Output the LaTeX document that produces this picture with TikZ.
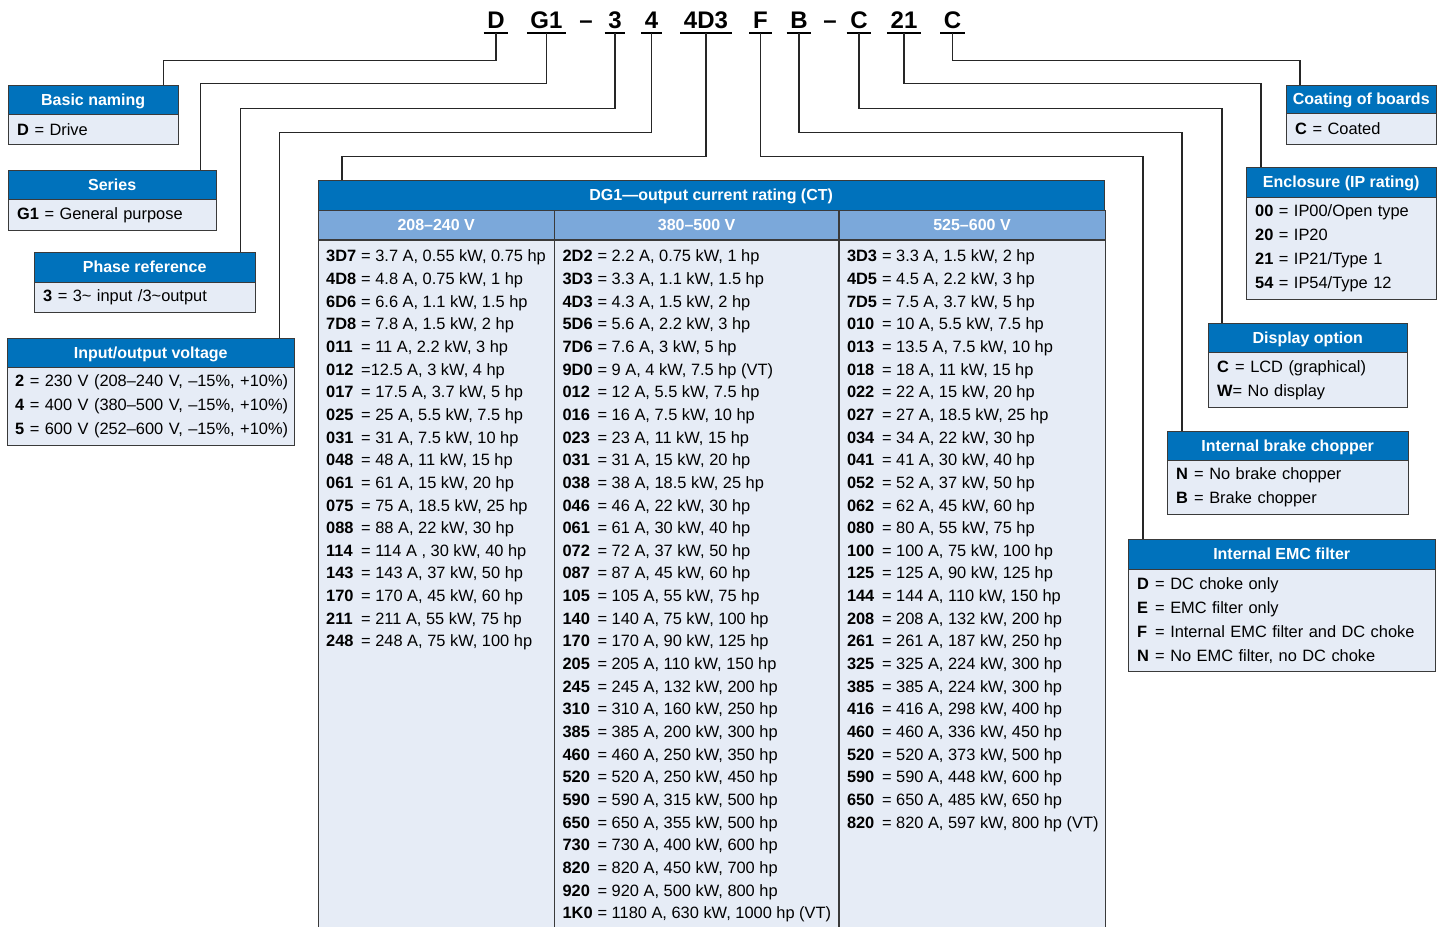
\documentclass[tikz,border=0pt]{standalone}
\usepackage{fontspec}
\setmainfont{Liberation Sans}
\usepackage{tikz}
\usetikzlibrary{positioning,calc}
\definecolor{ublue}{HTML}{0072BC}
\definecolor{usub}{HTML}{7BA8DA}
\definecolor{ulight}{HTML}{E6ECF6}
\definecolor{bordr}{HTML}{3A3A3A}
\newcommand{\bodyfont}{\fontsize{16.4}{24}\selectfont}
\newcommand{\cd}[1]{\makebox[35pt][l]{\textbf{#1}}}
\newcommand{\ky}[1]{\makebox[18pt][l]{\textbf{#1}}}

\begin{document}
\begin{tikzpicture}[x=1pt,y=-1pt,
    code/.style={font=\fontsize{24}{24}\selectfont\bfseries, anchor=base, inner xsep=3.5pt, inner ysep=4.5pt, text depth=0pt},
    uline/.style={line width=2pt},
    conn/.style={line width=1.4pt, draw=black!85},
    hdr/.style={fill=ublue, draw=bordr, text=white, font=\fontsize{16}{16}\selectfont\bfseries, anchor=north west, minimum height=29pt, inner sep=0pt, text height=11.5pt, text depth=0pt},
    sub/.style={hdr, fill=usub},
    bdy/.style={fill=ulight, draw=bordr, anchor=north west, align=left, font=\bodyfont, inner xsep=9pt, inner ysep=0pt},
    col/.style={fill=ulight, draw=bordr, anchor=north west, minimum height=700pt, inner sep=0pt},
    row/.style={anchor=base west, inner sep=0pt, font=\fontsize{16.4}{22}\selectfont}]
  \useasboundingbox[fill=white] (0,0) rectangle (1442,926);

  % type code
  \node[code] (tD)  at (496,28.5) {D};
  \node[code] (tG)  at (546.5,28.5) {G1};
  \node[code] (dsh1) at (586,28.5) {–};
  \node[code] (t3)  at (615,28.5) {3};
  \node[code] (t4)  at (651.5,28.5) {4};
  \node[code] (tV)  at (706,28.5) {4D3};
  \node[code] (tF)  at (760.5,28.5) {F};
  \node[code] (tB)  at (799,28.5) {B};
  \node[code] (dsh2) at (830,28.5) {–};
  \node[code] (tC)  at (859,28.5) {C};
  \node[code] (t21) at (904,28.5) {21};
  \node[code] (tCb) at (952.5,28.5) {C};
  \foreach \n in {tD,tG,t3,t4,tV,tF,tB,tC,t21,tCb}
    \draw[uline] (\n.south west) -- (\n.south east);

  % left boxes
  \node[hdr, minimum width=170pt] (basic) at (8,85) {Basic naming};
  \node[bdy, text width=152pt, minimum height=30pt] (basicb) at (basic.south west) {\textbf{D} = Drive};
  \node[hdr, minimum width=208pt] (series) at (8,170) {Series};
  \node[bdy, text width=190pt, minimum height=31pt] (seriesb) at (series.south west) {\textbf{G1} = General purpose};
  \node[hdr, minimum width=221pt, minimum height=30pt] (phase) at (34,252) {Phase reference};
  \node[bdy, text width=203pt, minimum height=30pt] (phaseb) at (phase.south west) {\textbf{3} = 3\textasciitilde{} input /3\textasciitilde output};
  \node[hdr, minimum width=287pt] (volt) at (7,338) {Input/output voltage};
  \node[bdy, inner xsep=8pt, text width=271pt, minimum height=78pt] (voltb) at (volt.south west) {%
    \mbox{\textbf{2} = 230 V (208–240 V, –15\%, +10\%)}\\
    \mbox{\textbf{4} = 400 V (380–500 V, –15\%, +10\%)}\\
    \mbox{\textbf{5} = 600 V (252–600 V, –15\%, +10\%)}};

  % right boxes
  \node[hdr, minimum width=150pt, minimum height=28pt] (coat) at (1286,85) {Coating of boards};
  \node[bdy, text width=132pt, minimum height=31pt] (coatb) at (coat.south west) {\textbf{C} = Coated};
  \node[hdr, minimum width=190pt, minimum height=30pt] (encl) at (1246,167) {Enclosure (IP rating)};
  \node[bdy, text width=172pt, minimum height=102pt] (enclb) at (encl.south west) {%
    \textbf{00} = IP00/Open type\\
    \textbf{20} = IP20\\
    \textbf{21} = IP21/Type 1\\
    \textbf{54} = IP54/Type 12};
  \node[hdr, minimum width=199pt] (disp) at (1208,323) {Display option};
  \node[bdy, text width=181pt, minimum height=55pt] (dispb) at (disp.south west) {%
    \ky{C}= LCD (graphical)\\
    \textbf{W}= No display};
  \node[hdr, minimum width=241pt] (brake) at (1167,431) {Internal brake chopper};
  \node[bdy, text width=223pt, minimum height=54pt] (brakeb) at (brake.south west) {%
    \ky{N}= No brake chopper\\
    \ky{B}= Brake chopper};
  \node[hdr, minimum width=307pt, minimum height=30pt] (emc) at (1128,539) {Internal EMC filter};
  \node[bdy, text width=289pt, minimum height=102pt] (emcb) at (emc.south west) {%
    \ky{D}= DC choke only\\
    \ky{E}= EMC filter only\\
    \ky{F}= Internal EMC filter and DC choke\\
    \ky{N}= No EMC filter, no DC choke};

  % rating table
  \node[hdr, minimum width=786pt, minimum height=30pt] (dg1) at (318,180) {DG1—output current rating (CT)};
  \node[sub, minimum width=236pt] (v230) at (dg1.south west) {208–240 V};
  \node[sub, minimum width=284pt] (v400) at (v230.north east) {380–500 V};
  \node[sub, minimum width=266pt] (v600) at (v400.north east) {525–600 V};
  \node[col, minimum width=236pt] (k230) at (v230.south west) {};
  \node[col, minimum width=284pt] (k400) at (v400.south west) {};
  \node[col, minimum width=266pt] (k600) at (v600.south west) {};

  \foreach \c/\t [count=\i] in {3D7/{= 3.7 A, 0.55 kW, 0.75 hp}, 4D8/{= 4.8 A, 0.75 kW, 1 hp},
      6D6/{= 6.6 A, 1.1 kW, 1.5 hp}, 7D8/{= 7.8 A, 1.5 kW, 2 hp}, 011/{= 11 A, 2.2 kW, 3 hp},
      012/{=12.5 A, 3 kW, 4 hp}, 017/{= 17.5 A, 3.7 kW, 5 hp}, 025/{= 25 A, 5.5 kW, 7.5 hp},
      031/{= 31 A, 7.5 kW, 10 hp}, 048/{= 48 A, 11 kW, 15 hp}, 061/{= 61 A, 15 kW, 20 hp},
      075/{= 75 A, 18.5 kW, 25 hp}, 088/{= 88 A, 22 kW, 30 hp}, 114/{= 114 A , 30 kW, 40 hp},
      143/{= 143 A, 37 kW, 50 hp}, 170/{= 170 A, 45 kW, 60 hp}, 211/{= 211 A, 55 kW, 75 hp},
      248/{= 248 A, 75 kW, 100 hp}}
    \node[row] (a\i) at ([shift={(8,22.65*\i-0.6)}]k230.north west) {\cd{\c}\t};

  \foreach \c/\t [count=\i] in {2D2/{= 2.2 A, 0.75 kW, 1 hp}, 3D3/{= 3.3 A, 1.1 kW, 1.5 hp},
      4D3/{= 4.3 A, 1.5 kW, 2 hp}, 5D6/{= 5.6 A, 2.2 kW, 3 hp}, 7D6/{= 7.6 A, 3 kW, 5 hp},
      9D0/{= 9 A, 4 kW, 7.5 hp (VT)}, 012/{= 12 A, 5.5 kW, 7.5 hp}, 016/{= 16 A, 7.5 kW, 10 hp},
      023/{= 23 A, 11 kW, 15 hp}, 031/{= 31 A, 15 kW, 20 hp}, 038/{= 38 A, 18.5 kW, 25 hp},
      046/{= 46 A, 22 kW, 30 hp}, 061/{= 61 A, 30 kW, 40 hp}, 072/{= 72 A, 37 kW, 50 hp},
      087/{= 87 A, 45 kW, 60 hp}, 105/{= 105 A, 55 kW, 75 hp}, 140/{= 140 A, 75 kW, 100 hp},
      170/{= 170 A, 90 kW, 125 hp}, 205/{= 205 A, 110 kW, 150 hp}, 245/{= 245 A, 132 kW, 200 hp},
      310/{= 310 A, 160 kW, 250 hp}, 385/{= 385 A, 200 kW, 300 hp}, 460/{= 460 A, 250 kW, 350 hp},
      520/{= 520 A, 250 kW, 450 hp}, 590/{= 590 A, 315 kW, 500 hp}, 650/{= 650 A, 355 kW, 500 hp},
      730/{= 730 A, 400 kW, 600 hp}, 820/{= 820 A, 450 kW, 700 hp}, 920/{= 920 A, 500 kW, 800 hp},
      1K0/{= 1180 A, 630 kW, 1000 hp (VT)}}
    \node[row] (b\i) at ([shift={(8,22.65*\i-0.6)}]k400.north west) {\cd{\c}\t};

  \foreach \c/\t [count=\i] in {3D3/{= 3.3 A, 1.5 kW, 2 hp}, 4D5/{= 4.5 A, 2.2 kW, 3 hp},
      7D5/{= 7.5 A, 3.7 kW, 5 hp}, 010/{= 10 A, 5.5 kW, 7.5 hp}, 013/{= 13.5 A, 7.5 kW, 10 hp},
      018/{= 18 A, 11 kW, 15 hp}, 022/{= 22 A, 15 kW, 20 hp}, 027/{= 27 A, 18.5 kW, 25 hp},
      034/{= 34 A, 22 kW, 30 hp}, 041/{= 41 A, 30 kW, 40 hp}, 052/{= 52 A, 37 kW, 50 hp},
      062/{= 62 A, 45 kW, 60 hp}, 080/{= 80 A, 55 kW, 75 hp}, 100/{= 100 A, 75 kW, 100 hp},
      125/{= 125 A, 90 kW, 125 hp}, 144/{= 144 A, 110 kW, 150 hp}, 208/{= 208 A, 132 kW, 200 hp},
      261/{= 261 A, 187 kW, 250 hp}, 325/{= 325 A, 224 kW, 300 hp}, 385/{= 385 A, 224 kW, 300 hp},
      416/{= 416 A, 298 kW, 400 hp}, 460/{= 460 A, 336 kW, 450 hp}, 520/{= 520 A, 373 kW, 500 hp},
      590/{= 590 A, 448 kW, 600 hp}, 650/{= 650 A, 485 kW, 650 hp}, 820/{= 820 A, 597 kW, 800 hp (VT)}}
    \node[row] (c\i) at ([shift={(8,22.65*\i-0.6)}]k600.north west) {\cd{\c}\t};

  % connectors
  \draw[conn] (tD.south)  -- ++(0,27)  -| ([xshift=-15pt]basic.north east);
  \draw[conn] (tG.south)  -- ++(0,50)  -| ([xshift=-16pt]series.north east);
  \draw[conn] (t3.south)  -- ++(0,75)  -| ([xshift=-15pt]phase.north east);
  \draw[conn] (t4.south)  -- ++(0,99)  -| ([xshift=-15pt]volt.north east);
  \draw[conn] (tV.south)  -- ++(0,123) -| ([xshift=24pt]dg1.north west);
  \draw[conn] (tF.south)  -- ++(0,123) -| ([xshift=15pt]emc.north west);
  \draw[conn] (tB.south)  -- ++(0,99)  -| ([xshift=15pt]brake.north west);
  \draw[conn] (tC.south)  -- ++(0,75)  -| ([xshift=14pt]disp.north west);
  \draw[conn] (t21.south) -- ++(0,50)  -| ([xshift=15pt]encl.north west);
  \draw[conn] (tCb.south) -- ++(0,27)  -| ([xshift=14pt]coat.north west);
\end{tikzpicture}
\end{document}
